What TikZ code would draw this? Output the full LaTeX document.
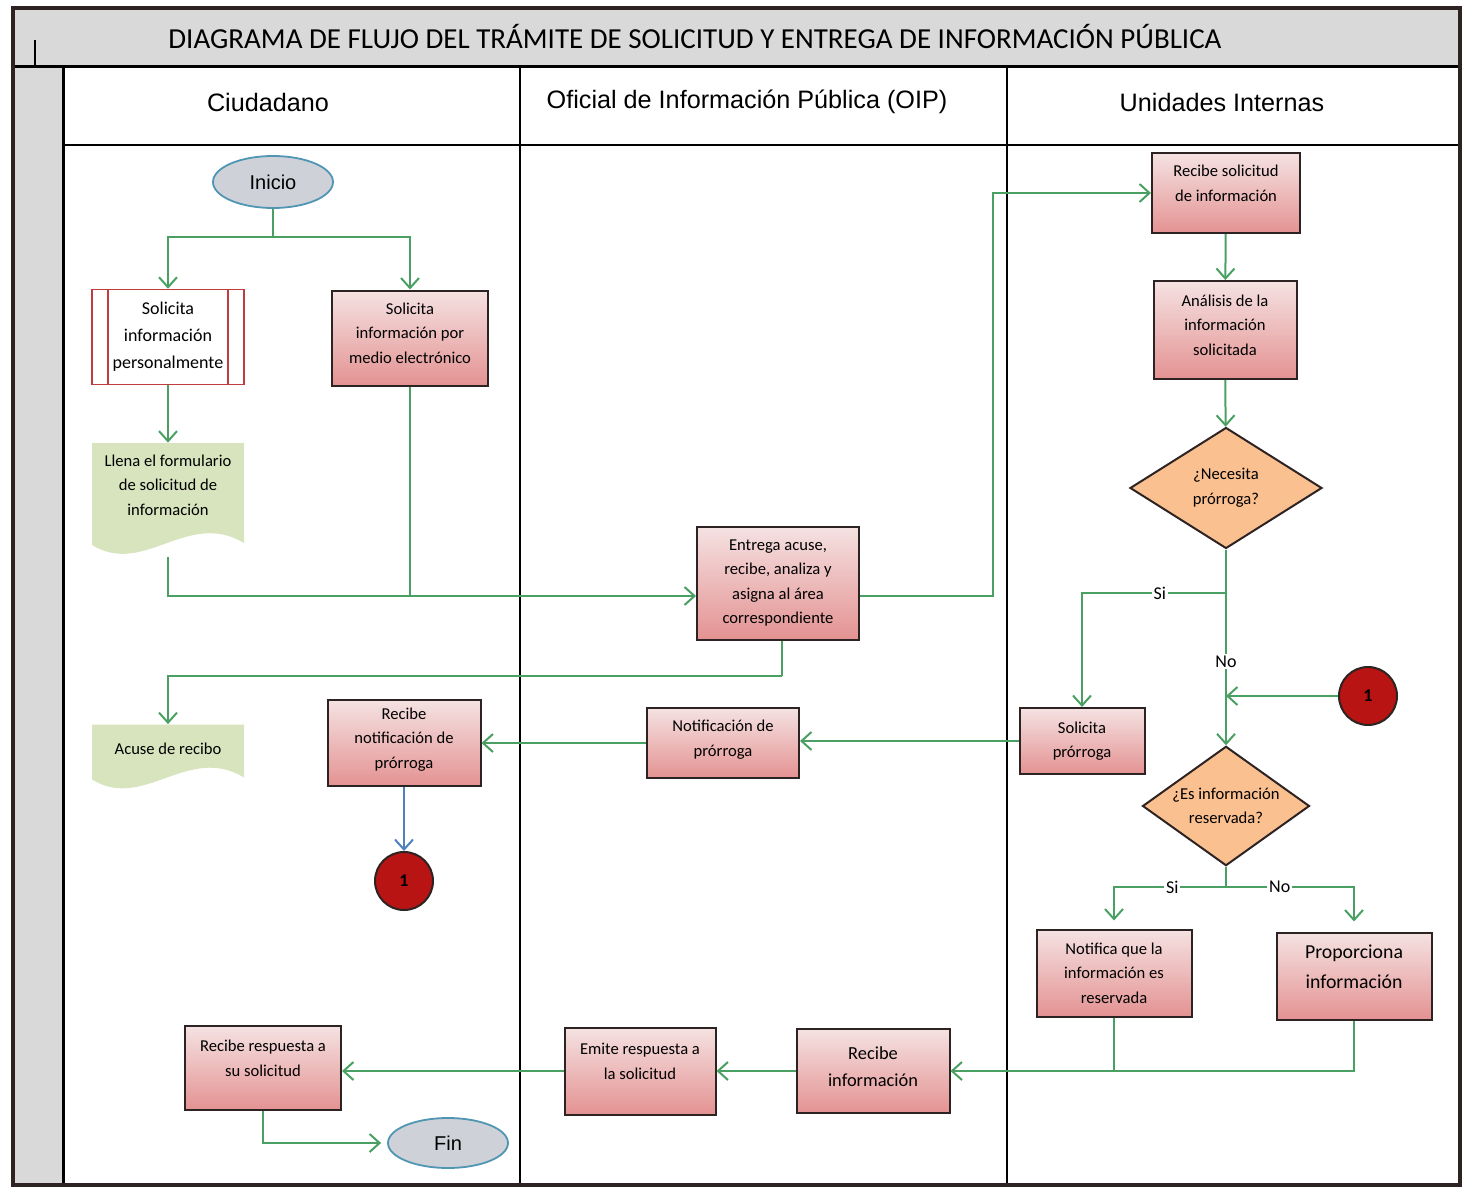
\documentclass[tikz,border=0pt]{standalone}
\usepackage{fontspec}
\setmainfont{Carlito}
\newfontfamily\arialfont{Liberation Sans}
\usepackage{tikz}
\usetikzlibrary{shapes,arrows,arrows.meta,positioning,calc}
\definecolor{verdelinea}{RGB}{74,160,98}
\definecolor{rosaclaro}{RGB}{245,226,226}
\definecolor{rosaoscuro}{RGB}{228,146,146}
\definecolor{bordeoscuro}{RGB}{45,35,35}
\definecolor{naranja}{RGB}{250,192,144}
\definecolor{verdedoc}{RGB}{216,228,190}
\definecolor{rojoborde}{RGB}{192,60,60}
\definecolor{grisbanda}{RGB}{217,217,217}
\definecolor{grisinicio}{RGB}{206,210,216}
\definecolor{azulborde}{RGB}{80,150,180}
\definecolor{rojocon}{RGB}{185,20,20}
\definecolor{azulflecha}{RGB}{79,129,189}
\tikzstyle{startstop} = [ellipse, draw=azulborde, line width=0.9pt, fill=grisinicio, minimum width=60pt, minimum height=26pt, inner sep=0pt, font=\arialfont\fontsize{10}{12}\selectfont]
\tikzstyle{process} = [rectangle, draw=bordeoscuro, line width=1pt, top color=rosaclaro, bottom color=rosaoscuro, align=center, inner sep=1pt, font=\fontsize{8.3}{12.3}\selectfont]
\tikzstyle{predef} = [rectangle, draw=rojoborde, line width=0.8pt, fill=white, align=center, minimum width=76pt, minimum height=47.5pt, inner sep=1pt, font=\fontsize{9}{13.5}\selectfont,
  path picture={\draw[rojoborde, line width=0.8pt] ([xshift=8pt]path picture bounding box.north west) -- ([xshift=8pt]path picture bounding box.south west);
                \draw[rojoborde, line width=0.8pt] ([xshift=-8pt]path picture bounding box.north east) -- ([xshift=-8pt]path picture bounding box.south east);}]
\tikzstyle{doc} = [rectangle, align=center, minimum width=76pt, inner sep=1pt, font=\fontsize{8.3}{12.3}\selectfont,
  path picture={\fill[verdedoc] (path picture bounding box.north west) -- (path picture bounding box.north east) -- ([yshift=7pt]path picture bounding box.south east) .. controls ([xshift=-28pt,yshift=24pt]path picture bounding box.south east) and ([xshift=26pt,yshift=-10pt]path picture bounding box.south west) .. ([yshift=6pt]path picture bounding box.south west) -- cycle;}]
\tikzstyle{decision} = [diamond, draw=bordeoscuro, line width=1pt, fill=naranja, align=center, inner sep=-3pt, font=\fontsize{8.3}{12.3}\selectfont]
\tikzstyle{conector} = [circle, draw=bordeoscuro, line width=1pt, fill=rojocon, minimum size=29pt, inner sep=0pt, font=\bfseries\fontsize{9}{10}\selectfont]
\tikzstyle{carril} = [font=\arialfont\fontsize{12.6}{15}\selectfont]
\tikzstyle{etiq} = [fill=white, inner sep=1pt, font=\fontsize{9}{10}\selectfont]
\tikzstyle{linea} = [draw=verdelinea, line width=1pt]
\tikzstyle{arrow} = [linea, ->, >={Straight Barb[length=5pt,width=9pt]}]

\begin{document}
\begin{tikzpicture}[x=0.5pt, y=-0.5pt]
        \useasboundingbox (0,0) rectangle (1468,1188);

        % Carriles
        \fill[grisbanda] (13,8) rectangle (1460,67);
        \fill[grisbanda] (13,67) rectangle (63,1185);
        \draw[line width=0.6pt] (520,67) -- (520,1185);
        \draw[line width=0.6pt] (1007,67) -- (1007,1185);
        \draw[line width=0.6pt] (63,145) -- (1460,145);
        \draw[line width=0.6pt] (35,40) -- (35,67);
        \draw[line width=1.5pt] (13,67) -- (1460,67);
        \draw[line width=1.5pt] (63,67) -- (63,1185);
        \draw[line width=2pt, bordeoscuro] (13,8) rectangle (1460,1185);
        \node (titulo) at (695,37) {\fontsize{14.5}{17}\selectfont DIAGRAMA DE FLUJO DEL TRÁMITE DE SOLICITUD Y ENTREGA DE INFORMACIÓN PÚBLICA};
        \node (ciudadano) [carril] at (268,102) {Ciudadano};
        \node (oip) [carril] at (747,102) {Oficial de Información Pública (OIP)};
        \node (unidades) [carril] at (1222,102) {Unidades Internas};

        % Bloques
        \node (inicio) [startstop] at (273,182) {Inicio};
        \node (personal) [predef] at (168,337) {Solicita\\información\\personalmente};
        \node (electronico) [process, minimum width=78pt, minimum height=47.5pt, text depth=5pt] at (410,338) {Solicita\\información por\\medio electrónico};
        \node (formulario) [doc, minimum height=57pt, text depth=15pt] at (168,500) {Llena el formulario\\de solicitud de\\información};
        \node (entrega) [process, minimum width=81pt, minimum height=56.5pt] at (778,583) {Entrega acuse,\\recibe, analiza y\\asigna al área\\correspondiente};
        \node (acuse) [doc, minimum height=33.5pt, text depth=9pt] at (168,758) {Acuse de recibo};
        \node (recibesol) [process, minimum width=74pt, minimum height=40pt, text depth=10pt] at (1226,193) {Recibe solicitud\\de información};
        \node (analisis) [process, minimum width=71.5pt, minimum height=49pt, text depth=5pt] at (1225,330) {Análisis de la\\información\\solicitada};
        \node (prorroga) [decision, minimum width=96pt, minimum height=60.5pt] at (1226,488) {¿Necesita\\prórroga?};
        \node (solprorroga) [process, minimum width=62.5pt, minimum height=33pt] at (1082,741) {Solicita\\prórroga};
        \node (conA) [conector] at (1368,696) {1};
        \node (reservada) [decision, minimum width=83.5pt, minimum height=49.5pt] at (1226,806) {¿Es información\\reservada?};
        \node (notifica) [process, minimum width=77.5pt, minimum height=43.5pt] at (1114,973) {Notifica que la\\información es\\reservada};
        \node (proporciona) [process, minimum width=77.5pt, minimum height=43.5pt, text depth=9pt, font=\fontsize{9.9}{15}\selectfont] at (1354,976) {Proporciona\\información};
        \node (notifprorroga) [process, minimum width=76pt, minimum height=35pt, text depth=5pt] at (723,743) {Notificación de\\prórroga};
        \node (recibenotif) [process, minimum width=76.5pt, minimum height=43pt, text depth=5pt] at (404,743) {Recibe\\notificación de\\prórroga};
        \node (conB) [conector] at (404,881) {1};
        \node (recibeinfo) [process, minimum width=76.5pt, minimum height=42pt, text depth=4pt, font=\fontsize{9.2}{13.5}\selectfont] at (873,1071) {Recibe\\información};
        \node (emite) [process, minimum width=75.5pt, minimum height=43.5pt, text depth=10pt] at (640,1071) {Emite respuesta a\\la solicitud};
        \node (recibeResp) [process, minimum width=78pt, minimum height=42pt, text depth=10pt] at (263,1068) {Recibe respuesta a\\su solicitud};
        \node (fin) [startstop, minimum height=25pt] at (448,1143) {Fin};

        % Lineas
        \coordinate (bif) at (273,237);
        \coordinate (union) at (410,596);
        \coordinate (giro) at (993,596);
        \coordinate (retorno) at (782,676);
        \coordinate (siA) at (1226,593);
        \coordinate (siB) at (1226,887);
        \draw[linea] (inicio.south) -- (bif);
        \draw[arrow] (bif) -| (personal.north);
        \draw[arrow] (bif) -| (electronico.north);
        \draw[arrow] (personal) -- (formulario);
        \draw[linea] (electronico.south) -- (union);
        \draw[arrow] (formulario.south) |- (entrega.west |- union);
        \draw[arrow] (entrega.east |- union) -- (giro) |- (recibesol.west);
        \draw[arrow] (recibesol) -- (analisis);
        \draw[arrow] (analisis) -- (prorroga);
        \draw[linea] (prorroga.south) -- (siA);
        \draw[arrow] (siA) -| node[etiq, pos=0.23] {Si} (solprorroga.north);
        \draw[arrow] (siA) -- node[etiq, pos=0.45] {No} (reservada.north);
        \draw[arrow] (conA) -- (conA -| siA);
        \draw[arrow] (solprorroga.west) -- (solprorroga.west -| notifprorroga.east);
        \draw[arrow] (notifprorroga.west) -- (notifprorroga.west -| recibenotif.east);
        \draw[arrow, draw=azulflecha] (recibenotif) -- (conB);
        \draw[linea] (entrega.south -| retorno) -- (retorno);
        \draw[arrow] (retorno) -| (acuse.north);
        \draw[linea] (reservada.south) -- (siB);
        \draw[arrow, shorten >=4pt] (siB) -| node[etiq, pos=0.24] {Si} (notifica.north);
        \draw[arrow, shorten >=5pt] (siB) -| node[etiq, pos=0.21] {No} (proporciona.north);
        \draw[linea] (notifica.south) -- (notifica.south |- recibeinfo.east);
        \draw[arrow] (proporciona.south) |- (recibeinfo.east);
        \draw[arrow] (recibeinfo) -- (emite);
        \draw[arrow] (emite.west) -- (emite.west -| recibeResp.east);
        \draw[arrow, shorten >=3pt] (recibeResp.south) |- (fin.west);
\end{tikzpicture}
\end{document}
